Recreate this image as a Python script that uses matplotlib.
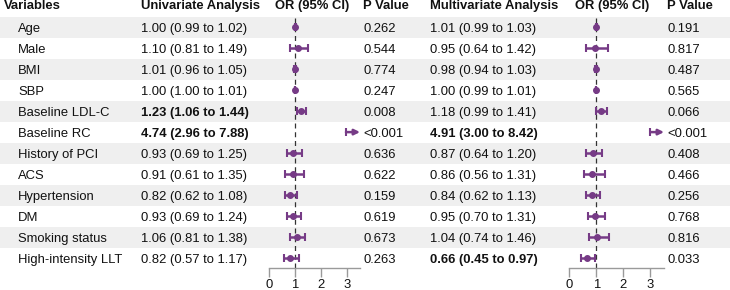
import matplotlib
matplotlib.use("Agg")
import matplotlib.pyplot as plt

plt.rcParams['font.family'] = ['Liberation Sans', 'DejaVu Sans']

# ---------------- data ----------------
variables = ["Age", "Male", "BMI", "SBP", "Baseline LDL-C", "Baseline RC",
             "History of PCI", "ACS", "Hypertension", "DM", "Smoking status",
             "High-intensity LLT"]
uni_or = [1.00, 1.10, 1.01, 1.00, 1.23, 4.74, 0.93, 0.91, 0.82, 0.93, 1.06, 0.82]
uni_lo = [0.99, 0.81, 0.96, 1.00, 1.06, 2.96, 0.69, 0.61, 0.62, 0.69, 0.81, 0.57]
uni_hi = [1.02, 1.49, 1.05, 1.01, 1.44, 7.88, 1.25, 1.35, 1.08, 1.24, 1.38, 1.17]
uni_p = ["0.262", "0.544", "0.774", "0.247", "0.008", "<0.001", "0.636", "0.622",
         "0.159", "0.619", "0.673", "0.263"]
multi_or = [1.01, 0.95, 0.98, 1.00, 1.18, 4.91, 0.87, 0.86, 0.84, 0.95, 1.04, 0.66]
multi_lo = [0.99, 0.64, 0.94, 0.99, 0.99, 3.00, 0.64, 0.56, 0.62, 0.70, 0.74, 0.45]
multi_hi = [1.03, 1.42, 1.03, 1.01, 1.41, 8.42, 1.20, 1.31, 1.13, 1.31, 1.46, 0.97]
multi_p = ["0.191", "0.817", "0.487", "0.565", "0.066", "<0.001", "0.408", "0.466",
           "0.256", "0.768", "0.816", "0.033"]
headers = ["Variables", "Univariate Analysis", "OR (95% CI)", "P Value",
           "Multivariate Analysis", "OR (95% CI)", "P Value"]
xticks = [0, 1, 2, 3]

# ---------------- layout (pixels) ----------------
W, H = 730, 290
FS = 9.4
PURPLE = "#763B86"
BAND = "#EFEFEF"
row0 = 27.1      # centre of first row
pitch = 21.0
axis_y = 268.0
xmax = 3.5

fig = plt.figure(figsize=(W / 100, H / 100), dpi=100)
bg = fig.add_axes([0, 0, 1, 1])
bg.set_xlim(0, W)
bg.set_ylim(H, 0)
bg.axis("off")

n = len(variables)
for i in range(n):
    yc = row0 + pitch * i
    if i % 2 == 0:
        bg.axhspan(yc - pitch / 2, yc + pitch / 2, color=BAND, lw=0, zorder=0)

def is_sig(p):
    return p.startswith("<") or float(p) < 0.05

# headers
hx = [4, 141, 275, 363, 430, 575, 667]
for x, h in zip(hx, headers):
    bg.text(x, 9.0, h, fontsize=FS, fontweight="bold", va="baseline", ha="left",
            color="#111111")

base_off = 4.6
for i in range(n):
    yb = row0 + pitch * i + base_off
    bg.text(18, yb, variables[i], fontsize=FS, va="baseline", color="#111111")
    bg.text(141, yb, f"{uni_or[i]:.2f} ({uni_lo[i]:.2f} to {uni_hi[i]:.2f})",
            fontsize=FS, va="baseline", color="#111111",
            fontweight="bold" if is_sig(uni_p[i]) else "normal")
    bg.text(363, yb, uni_p[i], fontsize=FS, va="baseline", color="#111111")
    bg.text(430, yb, f"{multi_or[i]:.2f} ({multi_lo[i]:.2f} to {multi_hi[i]:.2f})",
            fontsize=FS, va="baseline", color="#111111",
            fontweight="bold" if is_sig(multi_p[i]) else "normal")
    bg.text(667, yb, multi_p[i], fontsize=FS, va="baseline", color="#111111")


def forest(x0, x1, ors, los, his):
    top_px = row0 - pitch / 2
    ax = fig.add_axes([x0 / W, 1 - axis_y / H, (x1 - x0) / W, (axis_y - top_px) / H])
    ax.patch.set_alpha(0)
    ax.set_xlim(0, xmax)
    ax.set_ylim((axis_y - row0) / pitch, -0.5)
    for s in ["left", "top", "right"]:
        ax.spines[s].set_visible(False)
    ax.spines["bottom"].set_color("#9a9a9a")
    ax.spines["bottom"].set_linewidth(1.0)
    ax.set_yticks([])
    ax.set_xticks(xticks)
    ax.tick_params(axis="x", direction="out", length=6.5, width=1.0,
                   color="#9a9a9a", labelsize=FS, pad=1.5, labelcolor="#111111")
    ax.axvline(1, color="#333333", lw=0.9, ls=(0, (4, 3)), zorder=1)
    for i in range(len(ors)):
        if his[i] > xmax:
            ax.annotate("", xy=(xmax, i), xytext=(los[i], i),
                        arrowprops=dict(arrowstyle="-|>", color=PURPLE, lw=1.8,
                                        mutation_scale=8, shrinkA=0, shrinkB=0),
                        annotation_clip=False)
            ax.plot([los[i]], [i], marker="|", ms=6, mew=1.5, color=PURPLE)
        else:
            ax.errorbar([ors[i]], [i],
                        xerr=[[ors[i] - los[i]], [his[i] - ors[i]]],
                        fmt="o", color=PURPLE, ms=4, elinewidth=1.8,
                        capsize=3, capthick=1.5, zorder=3)
    return ax

forest(269, 360, uni_or, uni_lo, uni_hi)
forest(569, 664, multi_or, multi_lo, multi_hi)

fig.savefig("out.png", dpi=100)
